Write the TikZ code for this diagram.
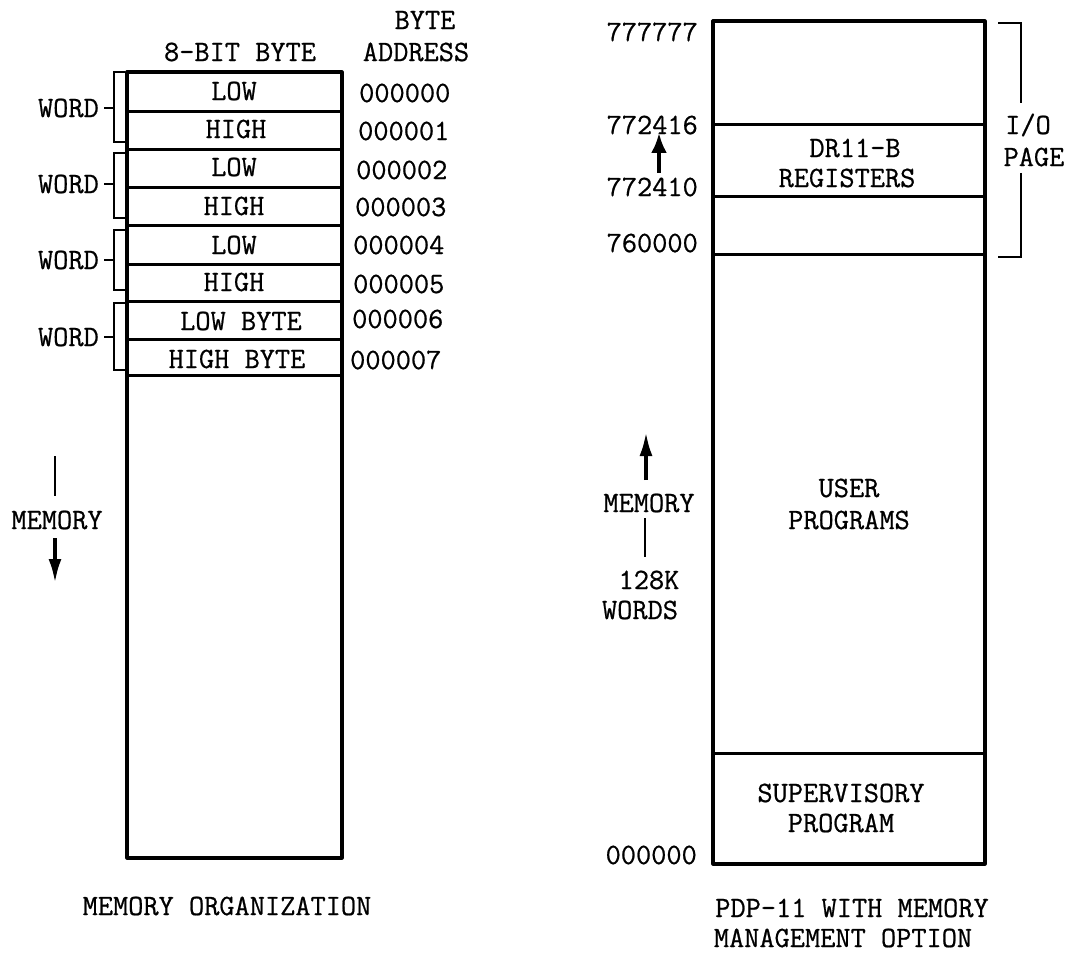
\documentclass[tikz,border=0pt]{standalone}
\usepackage{fontspec}
\newfontfamily\twfont{Latin Modern Mono}[FakeBold=0.7]
\usetikzlibrary{arrows.meta}
\begin{document}
\begin{tikzpicture}[x=1pt,y=-1pt,
  every node/.style={font=\fontsize{29.5}{30}\twfont, inner sep=0pt, anchor=center},
  box/.style={line width=3.2pt, line join=round},
  div/.style={line width=3pt},
  brk/.style={line width=1.6pt},
  arr/.style={line width=3.6pt, -{Latex[length=24pt,width=13pt]}},
  plain/.style={line width=2.8pt}]
\useasboundingbox (0,0) rectangle (1077,955);
% ---------------- left diagram ----------------
\coordinate (Ltl) at (127,72);
\coordinate (Lbr) at (342,858);
\draw[box] (Ltl) rectangle (Lbr);
\foreach \y in {112,150,188,225,264,301,339,375} \draw[div] (127,\y) -- (342,\y);
\node (hdr) at (240,52) {8-BIT BYTE};
\node (ba1) at (425,20) {BYTE};
\node (ba2) at (416,52) {ADDRESS};
\node (c0) at (234,91) {LOW};
\node (c1) at (236,129) {HIGH};
\node (c2) at (234,167) {LOW};
\node (c3) at (234,206) {HIGH};
\node (c4) at (234,245) {LOW};
\node (c5) at (234,282) {HIGH};
\node (c6) at (241,321) {LOW BYTE};
\node (c7) at (237,359) {HIGH BYTE};
\node[anchor=west] (a0) at (359,93) {000000};
\node[anchor=west] (a1) at (358,131) {000001};
\node[anchor=west] (a2) at (356,170) {000002};
\node[anchor=west] (a3) at (355,207) {000003};
\node[anchor=west] (a4) at (353,245) {000004};
\node[anchor=west] (a5) at (353,284) {000005};
\node[anchor=west] (a6) at (352,319) {000006};
\node[anchor=west] (a7) at (350,360) {000007};
% word brackets
\foreach \i/\ya/\yb/\ym in {1/72/142/108,2/153/218/184,3/230/290/260,4/303/370/337}{
  \node[anchor=east] (w\i) at (99,\ym) {WORD};
  \draw[brk] (125,\ya) -- (114,\ya) -- (114,\yb) -- (125,\yb);
  \coordinate (wb\i) at (114,\ym);
  \draw[brk] (w\i.east) ++(5,0) -- (wb\i);
}
% left memory arrow
\node (lmem) at (57,520) {MEMORY};
\coordinate (lmt) at (55,456);
\coordinate (lmb) at (55,496);
\draw[plain] (lmt) -- (lmb);
\coordinate (lat) at (55,538);
\coordinate (lah) at (55,583);
\draw[arr] (lat) -- (lah);
\node (cap1) at (227,906) {MEMORY ORGANIZATION};
% ---------------- right diagram ----------------
\coordinate (Rtl) at (713,21);
\coordinate (Rbr) at (985,864);
\draw[box] (Rtl) rectangle (Rbr);
\foreach \y in {125,197,254,753} \draw[div] (713,\y) -- (985,\y);
\node[anchor=east] (r0) at (698,32) {777777};
\node[anchor=east] (r1) at (698,125) {772416};
\node[anchor=east] (r2) at (698,187) {772410};
\node[anchor=east] (r3) at (698,243) {760000};
\node[anchor=east] (r4) at (697,855) {000000};
\coordinate (rat) at (659,173);
\coordinate (rah) at (659,133);
\draw[arr, -{Latex[length=20pt,width=16pt]}] (rat) -- (rah);
\node (dr1) at (855,148) {DR11-B};
\node (dr2) at (847,178) {REGISTERS};
% I/O page bracket
\draw[brk,line width=2pt] (998,23) -- (1021,23) -- (1021,103);
\draw[brk,line width=2pt] (1021,173) -- (1021,257) -- (998,257);
\node (io1) at (1028,125) {I/O};
\node (io2) at (1034,157) {PAGE};
% right memory arrow
\node (rmem) at (649,503) {MEMORY};
\coordinate (rmat) at (646,480);
\coordinate (rmah) at (646,432);
\draw[arr] (rmat) -- (rmah);
\coordinate (rmlt) at (645,518);
\coordinate (rmlb) at (645,557);
\draw[plain] (rmlt) -- (rmlb);
\node (k128) at (649,580) {128K};
\node (kw) at (640,610) {WORDS};
\node (up1) at (849,488) {USER};
\node (up2) at (849,520) {PROGRAMS};
\node (sp1) at (841,793) {SUPERVISORY};
\node (sp2) at (841,823) {PROGRAM};
\node (cap2) at (852,908) {PDP-11 WITH MEMORY};
\node (cap3) at (843,938) {MANAGEMENT OPTION};
\end{tikzpicture}
\end{document}
